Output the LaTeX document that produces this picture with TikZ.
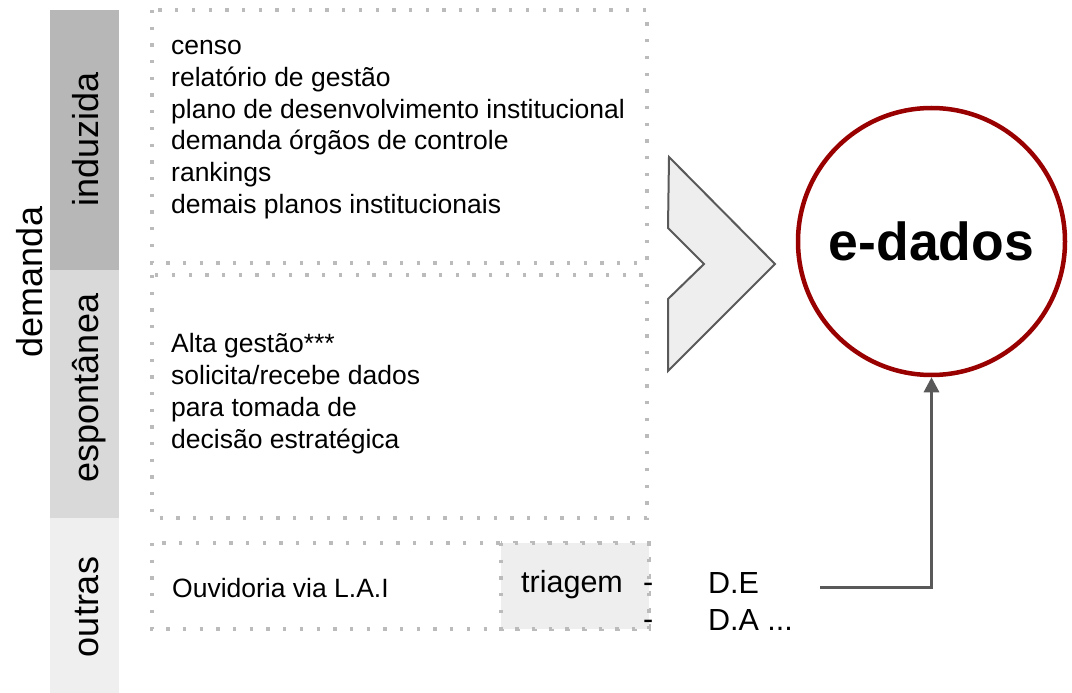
\documentclass[tikz,border=0pt]{standalone}
\usepackage{fontspec}
\setmainfont{Liberation Sans}
\usetikzlibrary{arrows.meta}
\definecolor{barA}{HTML}{B7B7B7}
\definecolor{barB}{HTML}{D9D9D9}
\definecolor{barC}{HTML}{EFEFEF}
\definecolor{dotc}{HTML}{BBBBBB}
\definecolor{lineg}{HTML}{595959}
\definecolor{chev}{HTML}{EEEEEE}
\definecolor{dred}{HTML}{990000}
\begin{document}
\begin{tikzpicture}[x=1pt,y=-1pt,
  dotbox/.style={draw=dotc, line width=3.3pt, dash pattern=on 3.3pt off 13.4pt},
  txt/.style={anchor=base west, inner sep=0pt, font=\fontsize{26.5}{31}\selectfont},
  bigtxt/.style={anchor=base west, inner sep=0pt, font=\fontsize{30.5}{36}\selectfont},
  side/.style={rotate=90, anchor=base, inner sep=0pt, font=\fontsize{36}{43}\selectfont},
  conn/.style={draw=lineg, line width=3pt, -{Triangle[length=15pt,width=15pt]}},
]
\useasboundingbox (0,0) rectangle (1072,693);
% side bars
\fill[barA] (50,10) rectangle (119,270);
\fill[barB] (50,270) rectangle (119,518);
\fill[barC] (50,518) rectangle (119,693);
\node[side] (dem) at (42,282) {demanda};
\node[side] (ind) at (98,139) {induzida};
\node[side] (esp) at (98,388) {espontânea};
\node[side] (out) at (98,607) {outras};
% dotted boxes
\draw[dotbox] (152,10) rectangle (647,263);
\draw[dotbox] (152,275) rectangle (647,518);
\draw[dotbox] (152,543) rectangle (649,629);
\draw[dotbox, fill=chev] (501,543) rectangle (649,629);
% box 1 text
\foreach \t [count=\i] in {censo, relatório de gestão, plano de desenvolvimento institucional, demanda órgãos de controle, rankings, demais planos institucionais}
  \node[txt] (ia\i) at (171,{55+31.6*(\i-1)}) {\t};
% box 2 text
\foreach \t [count=\i] in {Alta gestão***, solicita/recebe dados, para tomada de, decisão estratégica}
  \node[txt] (ea\i) at (171,{352+32.3*(\i-1)}) {\t};
% box 3
\node[txt] (ouv) at (172,597) {Ouvidoria via L.A.I};
\node[bigtxt] (tri) at (521,592) {triagem};
\node[bigtxt] (h1) at (643,592) {-};
\node[bigtxt] (h2) at (643,629) {-};
\node[bigtxt] (de) at (708,593) {D.E};
\node[bigtxt] (da) at (708,630) {D.A ...};
% chevron
\draw[draw=lineg, fill=chev, line width=2pt, line join=miter]
  (669,157) -- (775,264) -- (668,371) -- (668,299) -- (704,264) -- (668,228) -- cycle;
% circle
\node[circle, draw=dred, line width=4.5pt, minimum size=267pt, inner sep=0pt,
      font=\fontsize{53.5}{60}\selectfont\bfseries] (edados) at (931.5,241.5) {e-dados};
% connector
\coordinate (ls) at (820,587);
\draw[conn] (ls) -| (edados.south);
\end{tikzpicture}
\end{document}
